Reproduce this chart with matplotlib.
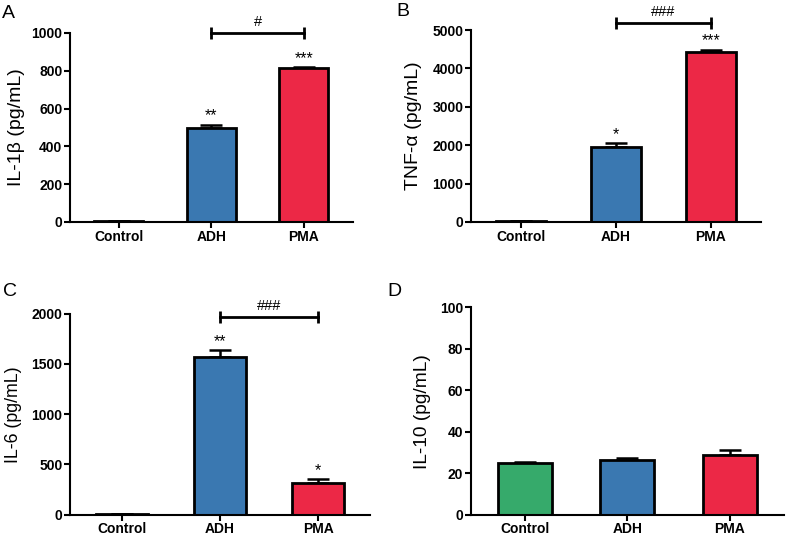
import matplotlib
matplotlib.use("Agg")
import matplotlib.pyplot as plt

plt.rcParams['font.family'] = ['Liberation Sans', 'DejaVu Sans']

groups = ['Control', 'ADH', 'PMA']
green, blue, red = '#36aa6b', '#3a78b1', '#ec2846'

# panel A: IL-1b
il1b = [5, 496, 814]
il1b_err = [2, 17, 4]
# panel B: TNF-a
tnfa = [20, 1961, 4435]
tnfa_err = [8, 88, 44]
# panel C: IL-6
il6 = [6, 1566, 315]
il6_err = [2, 70, 40]
# panel D: IL-10
il10 = [24.9, 26.5, 28.6]
il10_err = [0.4, 0.8, 2.7]

panels = [
    # letter, values, errors, colors, ylabel, ymax, yticks, stars, hashes, ylabel size/x, axes rect, letter xy (px)
    ('A', il1b, il1b_err, ['w', blue, red], 'IL-1\u03b2 (pg/mL)', 1000, range(0, 1001, 200),
     ['', '**', '***'], ('#', 1000), (14, -0.159), [0.0888, 0.5866, 0.359, 0.352], (2, 14)),
    ('B', tnfa, tnfa_err, ['w', blue, red], 'TNF-\u03b1 (pg/mL)', 5000, range(0, 5001, 1000),
     ['', '*', '***'], ('###', 5170), (14, -0.169), [0.5977, 0.5866, 0.368, 0.3575], (396, 12)),
    ('C', il6, il6_err, ['w', blue, red], 'IL-6 (pg/mL)', 2000, range(0, 2001, 500),
     ['', '**', '*'], ('###', 1964), (12.8, -0.16), [0.0888, 0.0415, 0.381, 0.3743], (3, 291)),
    ('D', il10, il10_err, [green, blue, red], 'IL-10 (pg/mL)', 100, range(0, 101, 20),
     ['', '', ''], None, (13.8, -0.128), [0.5977, 0.0415, 0.397, 0.386], (387, 291)),
]

fig = plt.figure(figsize=(7.88, 5.37), dpi=100)

for letter, vals, errs, cols, ylab, ymax, yt, stars, sig, ylx, rect, lxy in panels:
    ax = fig.add_axes(rect)
    x = range(len(groups))
    ax.errorbar(x, vals, yerr=[[0] * 3, errs], fmt='none', ecolor='black',
                elinewidth=1.8, capsize=8, capthick=1.8, zorder=1)
    ax.bar(x, vals, width=0.53, color=cols, edgecolor='black', linewidth=2, zorder=2)
    ax.set_xlim(-0.53, 2.53)
    ax.set_ylim(0, ymax)
    ax.set_yticks(list(yt))
    ax.set_xticks(list(x))
    ax.set_xticklabels(groups, fontsize=10, fontweight='bold')
    for lab in ax.get_yticklabels():
        lab.set_fontweight('bold')
        lab.set_fontsize(10)
    ax.spines['top'].set_visible(False)
    ax.spines['right'].set_visible(False)
    ax.spines['left'].set_linewidth(1.5)
    ax.spines['bottom'].set_linewidth(1.5)
    ax.tick_params(axis='both', width=1.5, length=4, pad=1.5)
    ax.set_ylabel(ylab, fontsize=ylx[0])
    ax.yaxis.set_label_coords(ylx[1], 0.5)

    for i, s in enumerate(stars):
        if s:
            ax.annotate(s, (i, vals[i] + errs[i]), xytext=(0, 1), textcoords='offset points',
                        ha='center', va='bottom', fontsize=11.5)
    if sig:
        txt, yl = sig
        ax.plot([1, 2], [yl, yl], color='black', lw=2, clip_on=False)
        ax.plot([1, 2], [yl, yl], ls='none', marker='|', ms=9, mew=2, color='black', clip_on=False)
        ax.annotate(txt, (1.5, yl), xytext=(0, 3), textcoords='offset points',
                    ha='center', va='bottom', fontsize=10.5, annotation_clip=False)

    fig.text(lxy[0] / 788, 1 - lxy[1] / 537, letter, fontsize=14, ha='left', va='center')

fig.savefig('out.png', dpi=100)
